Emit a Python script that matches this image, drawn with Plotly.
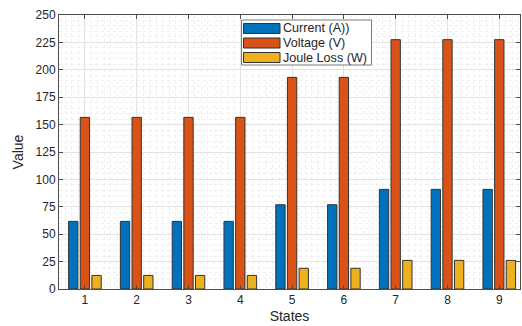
import plotly.graph_objects as go

states = [1, 2, 3, 4, 5, 6, 7, 8, 9]
current = [61.7, 61.7, 61.7, 61.7, 76.9, 76.9, 90.9, 90.9, 90.9]
voltage = [156.6, 156.6, 156.6, 156.6, 193.1, 193.1, 227.5, 227.5, 227.5]
joule = [12.4, 12.4, 12.4, 12.4, 18.9, 18.9, 26.1, 26.1, 26.1]
names = ["Current (A))", "Voltage (V)", "Joule Loss (W)"]
colors = ["#0072BD", "#D95319", "#EDB120"]
yticks = [0, 25, 50, 75, 100, 125, 150, 175, 200, 225, 250]

W, H = 522, 326
L, R, T, B = 59, 2, 15, 37
PW, PH = W - L - R, H - T - B

def px(x):
    return (x - L) / PW

def py(y):
    return (H - B - y) / PH

fig = go.Figure()
for name, vals, col in zip(names, [current, voltage, joule], colors):
    fig.add_trace(go.Bar(x=states, y=vals, name=name, marker_color=col,
                         marker_line=dict(color="#333333", width=1), showlegend=False))

axis_common = dict(
    showline=True, linecolor="#4d4d4d", linewidth=1, mirror="ticks",
    ticks="inside", ticklen=4, tickcolor="#4d4d4d",
    showgrid=True, gridcolor="#e3e3e3", gridwidth=1,
    tickfont=dict(family="Liberation Sans, Arial", size=12, color="#262626"),
    zeroline=False,
)

fig.update_layout(
    width=W, height=H,
    margin=dict(l=L, r=R, t=T, b=B),
    paper_bgcolor="white", plot_bgcolor="white",
    barmode="group", bargap=0.325, bargroupgap=0.2,
    xaxis=dict(range=[0.5, 9.4], tickvals=states, ticktext=[str(s) for s in states],
               title=dict(text="States", font=dict(family="Liberation Sans, Arial", size=14, color="#262626"), standoff=4),
               minor=dict(dtick=0.125, tick0=0.5, showgrid=True, griddash="dot", gridcolor="#efefef", ticks=""),
               **axis_common),
    yaxis=dict(range=[0, 250], tickvals=yticks, ticktext=[str(v) for v in yticks],
               title=dict(text="Value", font=dict(family="Liberation Sans, Arial", size=14, color="#262626"), standoff=8),
               minor=dict(dtick=5, tick0=0, showgrid=True, griddash="dot", gridcolor="#efefef", ticks=""),
               **axis_common),
)

# legend box
lx0, lx1, ly0, ly1 = 241.5, 371.5, 20, 65
fig.add_shape(type="rect", xref="paper", yref="paper", x0=px(lx0), x1=px(lx1), y0=py(ly1), y1=py(ly0),
              fillcolor="white", line=dict(color="#7a7a7a", width=1), layer="above")
rows = [28.5, 43, 57.5]
for name, col, ry in zip(names, colors, rows):
    fig.add_shape(type="rect", xref="paper", yref="paper", x0=px(243.5), x1=px(280), y0=py(ry + 5), y1=py(ry - 5),
                  fillcolor=col, line=dict(color="#333333", width=1), layer="above")
    fig.add_annotation(xref="paper", yref="paper", x=px(281), y=py(ry), text=name, showarrow=False,
                       xanchor="left", yanchor="middle",
                       font=dict(family="Liberation Sans, Arial", size=12.6, color="#262626"))

fig.write_html("out.html")
